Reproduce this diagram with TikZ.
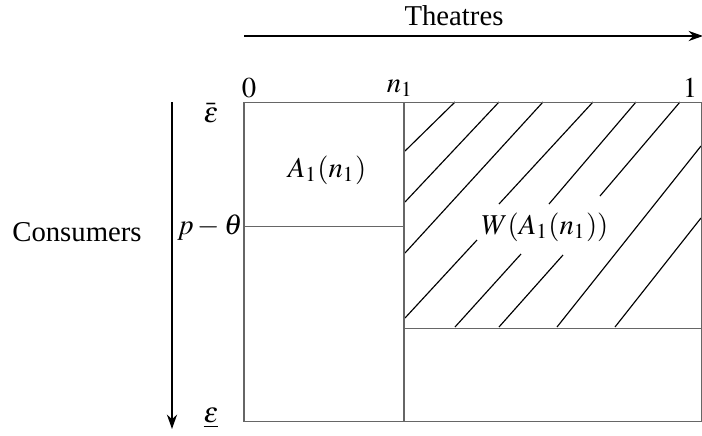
\documentclass[tikz,border=0pt]{standalone}
\usepackage{mathptmx}
\usepackage{fontspec}
\setmainfont{Liberation Serif}
\usetikzlibrary{arrows.meta}
\begin{document}
\begin{tikzpicture}[x=0.348pt,y=-0.348pt,
  box/.style={draw=black!60,line width=0.35pt},
  hatch/.style={draw=black,line width=0.4pt},
  axis/.style={draw=black,line width=0.75pt,-{Stealth[length=5pt,width=3.5pt]}},
  lab/.style={inner sep=0pt,font=\fontsize{10}{12}\selectfont}]
\useasboundingbox (0,0) rectangle (702,435);
% frame
\coordinate (tl) at (244,102);
\coordinate (br) at (701,421);
\coordinate (mt) at (404,102);
\coordinate (mb) at (404,421);
\coordinate (lh1) at (244,226);
\coordinate (lh2) at (404,226);
\coordinate (rh1) at (404,328);
\coordinate (rh2) at (701,328);
% hatching
\draw[hatch] (405,151)--(455,102);
\draw[hatch] (405,202)--(499,102);
\draw[hatch] (405,253)--(543,102);
\draw[hatch] (405,318)--(477,240);
\draw[hatch] (499,204)--(593,102);
\draw[hatch] (455,327)--(521,254);
\draw[hatch] (549,204)--(636,102);
\draw[hatch] (499,327)--(563,255);
\draw[hatch] (600,196)--(680,102);
\draw[hatch] (557,327)--(701,146);
\draw[hatch] (615,327)--(701,218);
\draw[box] (tl) rectangle (br);
\draw[box] (mt) -- (mb);
\draw[box] (lh1) -- (lh2);
\draw[box] (rh1) -- (rh2);
% axes
\coordinate (ta1) at (244,36);
\coordinate (ta2) at (703,36);
\draw[axis] (ta1) -- (ta2);
\coordinate (va1) at (172,102);
\coordinate (va2) at (172,429);
\draw[axis] (va1) -- (va2);
% labels
\node[lab] (theatres) at (454,16) {Theatres};
\node[lab] (consumers) at (77,232) {Consumers};
\node[lab] (zero) at (249,88) {$0$};
\node[lab] (n1) at (400,88) {$n_1$};
\node[lab] (one) at (690,88) {$1$};
\node[lab] (epsbar) at (211,113) {$\bar{\varepsilon}$};
\node[lab] (epsund) at (211,418) {$\underline{\varepsilon}$};
\node[lab,anchor=east] (pth) at (243,228) {$p-\theta$};
\node[lab] (A) at (327,170) {$A_1(n_1)$};
\node[lab] (W) at (545,227) {$W(A_1(n_1))$};
\end{tikzpicture}
\end{document}
